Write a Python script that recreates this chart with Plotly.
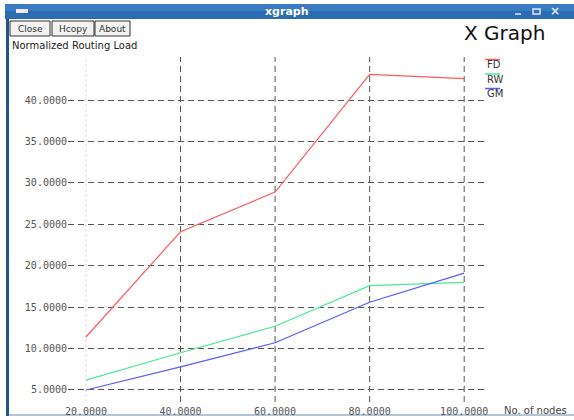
import plotly.graph_objects as go

# Normalized routing load against number of nodes
x_nodes = [20, 40, 60, 80, 100]
fd_load = [11.4, 24.1, 28.9, 43.1, 42.6]
rw_load = [6.2, 9.5, 12.7, 17.6, 18.0]
gm_load = [5.0, 7.8, 10.7, 15.6, 19.1]

series_names = ["FD", "RW", "GM"]
series_values = [fd_load, rw_load, gm_load]
series_colors = ["#ff5a5a", "#4ee89a", "#5a5aff"]

y_ticks = [5, 10, 15, 20, 25, 30, 35, 40]

W, H = 574, 420
L, R, T, B = 68, 89, 57, 18
PW, PH = W - L - R, H - T - B


def xp(px):
    return (px - L) / PW


def yp(py):
    return (H - B - py) / PH


def label(text, x, y, size, color, family="DejaVu Sans", xanchor="left"):
    return dict(text=text, x=xp(x), y=yp(y), xref="paper", yref="paper",
                xanchor=xanchor, yanchor="middle", showarrow=False,
                font=dict(family=family, size=size, color=color))


fig = go.Figure()
for name, vals, col in zip(series_names, series_values, series_colors):
    fig.add_trace(go.Scatter(x=x_nodes, y=vals, mode="lines", name=name,
                             line=dict(color=col, width=1.2), showlegend=False))

shapes = []
annotations = []

# window chrome: title bar, left border, bottom edge
shapes.append(dict(type="rect", xref="paper", yref="paper", x0=xp(5), x1=xp(574),
                   y0=yp(19), y1=yp(4), fillcolor="#2c6cb3", line=dict(width=0), layer="below"))
shapes.append(dict(type="rect", xref="paper", yref="paper", x0=xp(5), x1=xp(574),
                   y0=yp(11), y1=yp(4), fillcolor="#3a7cc4", line=dict(width=0), layer="below"))
shapes.append(dict(type="rect", xref="paper", yref="paper", x0=xp(6), x1=xp(9),
                   y0=yp(416), y1=yp(19), fillcolor="#1f5488", line=dict(width=0), layer="below"))
shapes.append(dict(type="line", xref="paper", yref="paper", x0=xp(9), x1=xp(574),
                   y0=yp(415), y1=yp(415), line=dict(color="#b4c6d6", width=2), layer="below"))
# window icon and controls
shapes.append(dict(type="rect", xref="paper", yref="paper", x0=xp(16), x1=xp(28),
                   y0=yp(13), y1=yp(9), fillcolor="#e8eef6", line=dict(width=0)))
shapes.append(dict(type="line", xref="paper", yref="paper", x0=xp(515), x1=xp(521),
                   y0=yp(14), y1=yp(14), line=dict(color="#dfe8f3", width=1.5)))
shapes.append(dict(type="rect", xref="paper", yref="paper", x0=xp(533), x1=xp(540),
                   y0=yp(14), y1=yp(9), line=dict(color="#dfe8f3", width=1.5)))
annotations.append(label("<b>xgraph</b>", 287, 11.5, 11, "white", xanchor="center"))
annotations.append(label("<b>×</b>", 555, 11.5, 12, "#dfe8f3", xanchor="center"))

# buttons
for text, x0, x1 in [("Close", 10, 50), ("Hcopy", 52, 94), ("About", 95, 130)]:
    shapes.append(dict(type="rect", xref="paper", yref="paper", x0=xp(x0), x1=xp(x1),
                       y0=yp(36), y1=yp(21), fillcolor="#f2f2f2",
                       line=dict(color="#333333", width=1)))
    annotations.append(label(text, (x0 + x1) / 2, 28.5, 9, "#333333", xanchor="center"))

annotations.append(label("X Graph", 462, 33, 20, "#111111"))
annotations.append(label("Normalized Routing Load", 10, 45.5, 10, "#222222"))
annotations.append(label("No. of nodes", 502, 410, 10, "#444444"))

# vertical grid lines at each node count
for i, xv in enumerate(x_nodes):
    shapes.append(dict(type="line", xref="x", yref="paper", x0=xv, x1=xv, y0=0, y1=1,
                       layer="below",
                       line=dict(color="#dddddd" if i == 0 else "#555555", width=1,
                                 dash="3px,2px" if i == 0 else "6px,4px")))

# legend: short line above each label
for i, (name, col) in enumerate(zip(series_names, series_colors)):
    ly = 59.5 + 14.5 * i
    shapes.append(dict(type="line", xref="paper", yref="paper", x0=xp(485), x1=xp(500),
                       y0=yp(ly), y1=yp(ly), line=dict(color=col, width=1.5)))
    annotations.append(label(name, 485, ly + 5, 10, "#333333"))

tick_font = dict(family="DejaVu Sans Mono", size=10, color="#555555")
fig.update_layout(
    width=W, height=H,
    margin=dict(l=L, r=R, t=T, b=B, pad=0),
    paper_bgcolor="white", plot_bgcolor="white",
    shapes=shapes, annotations=annotations,
    xaxis=dict(range=[16.2, 104.4], tickvals=x_nodes,
               ticktext=[f"{v:.4f}" for v in x_nodes], automargin=False,
               showgrid=False, zeroline=False, showline=False, ticks="",
               ticklabelstandoff=2, tickfont=tick_font),
    yaxis=dict(range=[3.55, 45.2], tickvals=y_ticks,
               ticktext=[f"{v:.4f}" for v in y_ticks], automargin=False,
               showgrid=True, gridcolor="#555555", gridwidth=1, griddash="6px,4px",
               zeroline=False, showline=False, ticks="",
               tickfont=tick_font),
)

fig.write_html("out.html")
